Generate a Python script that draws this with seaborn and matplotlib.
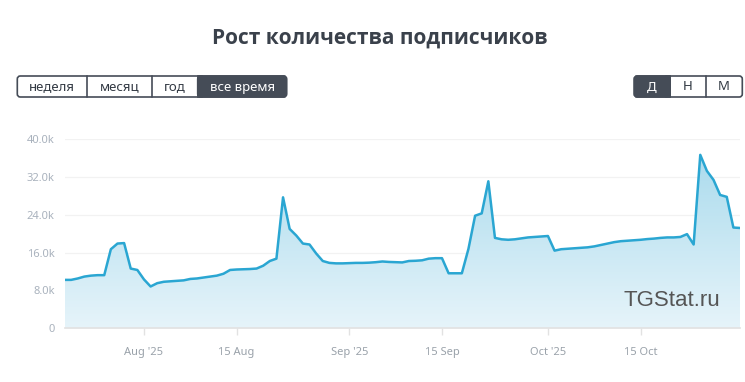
import numpy as np
import pandas as pd
import seaborn as sns
import matplotlib.pyplot as plt
from matplotlib.patches import FancyBboxPatch, Rectangle
from matplotlib.colors import LinearSegmentedColormap
import matplotlib.dates as mdates

# subscribers (thousands), one point per day
dates = pd.date_range("2025-07-20", "2025-10-30", freq="D")
subs_k = [
    10.2, 10.2, 10.5, 10.9, 11.1, 11.2, 11.2, 16.7, 17.9, 18.0, 12.6, 12.3,
    10.3, 8.8, 9.5, 9.8, 9.9, 10.0, 10.1, 10.4, 10.5, 10.7, 10.9, 11.1,
    11.5, 12.3, 12.4, 12.45, 12.5, 12.6, 13.2, 14.2, 14.7, 27.7, 21.0, 19.6,
    17.9, 17.7, 15.8, 14.2, 13.8, 13.7, 13.7, 13.75, 13.8, 13.8, 13.85, 13.95,
    14.1, 14.0, 13.95, 13.9, 14.2, 14.25, 14.35, 14.7, 14.8, 14.8, 11.6, 11.6,
    11.6, 16.8, 23.8, 24.3, 31.1, 19.1, 18.8, 18.7, 18.8, 19.0, 19.2, 19.3,
    19.4, 19.5, 16.4, 16.7, 16.8, 16.9, 17.0, 17.1, 17.3, 17.6, 17.9, 18.2,
    18.4, 18.5, 18.6, 18.7, 18.85, 18.95, 19.1, 19.2, 19.2, 19.3, 19.9, 17.7,
    36.7, 33.3, 31.4, 28.2, 27.8, 21.3, 21.2,
]
y_ticks = [0, 8000, 16000, 24000, 32000, 40000]
y_labels = ["0", "8.0k", "16.0k", "24.0k", "32.0k", "40.0k"]
x_ticks = ["2025-08-01", "2025-08-15", "2025-09-01", "2025-09-15", "2025-10-01", "2025-10-15"]
x_labels = ["Aug '25", "15 Aug", "Sep '25", "15 Sep", "Oct '25", "15 Oct"]
periods = ["неделя", "месяц", "год", "все время"]
scales = ["Д", "Н", "М"]

df = pd.DataFrame({"date": dates, "subs": np.array(subs_k) * 1000})

sns.set_theme(style="white")
plt.rcParams["font.family"] = ["Noto Sans", "DejaVu Sans"]

line_col = "#2aa6d2"
dark = "#454c57"
W, H = 745, 382

fig = plt.figure(figsize=(W / 100, H / 100), dpi=100)
ax = fig.add_axes([64.5 / W, (H - 328) / H, (740 - 64.5) / W, (328 - 139.3) / H])

# gradient fill under the line
xnum = mdates.date2num(df["date"])
poly = ax.fill_between(xnum, df["subs"], 0, color="none", lw=0)
cmap = LinearSegmentedColormap.from_list("fill", ["#e6f4fa", "#a6d9ec"])
grad = np.linspace(0, 1, 256).reshape(-1, 1)
img = ax.imshow(grad, cmap=cmap, aspect="auto", origin="lower",
                extent=[xnum[0], xnum[-1], 0, 40000], zorder=1)
img.set_clip_path(poly.get_paths()[0], transform=ax.transData)

sns.lineplot(data=df, x="date", y="subs", ax=ax, color=line_col, lw=1.8, zorder=3)

ax.set_xlim(dates[0], dates[-1])
ax.set_ylim(0, 40000)
ax.set_yticks(y_ticks)
ax.set_yticklabels(y_labels)
ax.set_xticks(pd.to_datetime(x_ticks))
ax.set_xticklabels(x_labels)
ax.set_xlabel("")
ax.set_ylabel("")
ax.grid(axis="y", color="#f2f2f2", lw=0.9)
ax.set_axisbelow(True)
for s in ["top", "right", "left"]:
    ax.spines[s].set_visible(False)
ax.spines["bottom"].set_color("#e2e2e2")
ax.tick_params(axis="y", length=0, pad=7, labelsize=8, labelcolor="#a9b2bd")
ax.tick_params(axis="x", length=5, width=1, color="#e2e2e2", pad=9,
               labelsize=8, labelcolor="#9aa2aa", bottom=True)

# overlay in pixel coordinates for title, buttons and watermark
ov = fig.add_axes([0, 0, 1, 1], zorder=5)
ov.set_xlim(0, W)
ov.set_ylim(H, 0)
ov.axis("off")
ov.patch.set_alpha(0)

ov.text(380, 38, "Рост количества подписчиков", ha="center", va="center",
        fontsize=15, fontweight="bold", color="#3a414b",
        family=["Open Sans", "DejaVu Sans"])


def button_group(edges, labels, active, top=76, bottom=97):
    ov.add_patch(FancyBboxPatch((edges[0], top), edges[-1] - edges[0], bottom - top,
                                boxstyle="round,pad=0,rounding_size=3",
                                fc="white", ec=dark, lw=1.2))
    for i, lab in enumerate(labels):
        x0, x1 = edges[i], edges[i + 1]
        if i == active:
            ov.add_patch(FancyBboxPatch((x0, top), x1 - x0, bottom - top,
                                        boxstyle="round,pad=0,rounding_size=3",
                                        fc=dark, ec=dark, lw=1.2))
            ov.add_patch(Rectangle((x0, top), 4, bottom - top, fc=dark, ec=dark, lw=1.2)
                         if i > 0 else Rectangle((x1 - 4, top), 4, bottom - top,
                                                 fc=dark, ec=dark, lw=1.2))
        elif i > 0:
            ov.plot([x0, x0], [top, bottom], color=dark, lw=1.2)
        ov.text((x0 + x1) / 2, (top + bottom) / 2 + 0.5, lab, ha="center", va="center",
                fontsize=9.5, color="white" if i == active else "#333a44")


button_group([17.3, 87.3, 151.7, 197.7, 286.5], periods, 3)
button_group([634.3, 670, 705.7, 742.3], scales, 0)

ov.text(720, 300, "TGStat.ru", ha="right", va="center", fontsize=16,
        color="#555555", family=["Liberation Sans", "DejaVu Sans"])

fig.savefig("out.png", dpi=100, facecolor="white")
